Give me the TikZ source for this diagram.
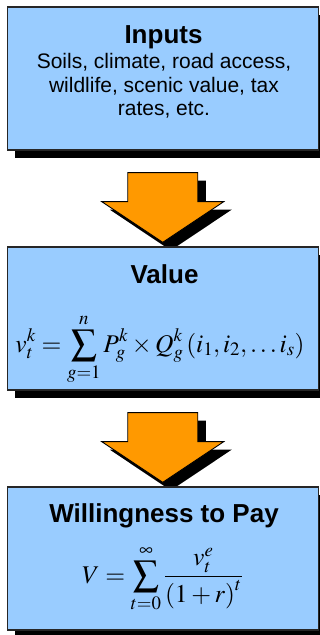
\documentclass[tikz,border=0pt]{standalone}
\usepackage{mathptmx}
\usepackage[no-math]{fontspec}
\setmainfont{Liberation Sans}
\usepackage{tikz}
\usetikzlibrary{
	calc,
	shadows,
	backgrounds,
	positioning
}
\definecolor{BoxBlue}{RGB}{153,204,255}
\definecolor{ArrowOrange}{RGB}{255,153,0}
\tikzset{
	stage/.style={draw=black!85, line width=1.3pt, fill=BoxBlue,
		minimum width=311pt, minimum height=143pt, inner sep=0pt,
		drop shadow={shadow xshift=8pt, shadow yshift=-8pt, fill=black, opacity=1}},
	flowarrow/.style={draw=black, line width=0.9pt, fill=ArrowOrange,
		drop shadow={shadow xshift=8pt, shadow yshift=-8pt, fill=black, opacity=1}},
	heading/.style={anchor=base, inner sep=0pt, font=\fontsize{26}{30}\selectfont\bfseries},
	bodytext/.style={anchor=base, inner sep=0pt, align=center, font=\fontsize{21}{23.5}\selectfont},
	formula/.style={anchor=base, inner sep=0pt, font=\fontsize{25.5}{30}\selectfont}
}
% block arrow from the bottom of one box to the top of the next
\newcommand{\flowstep}[2]{%
	\draw[flowarrow] let \p1=(#1.south), \p2=(#2.north) in
		(\x1-35pt,\y1-22pt) -- (\x1+35pt,\y1-22pt) -- (\x1+35pt,\y1-51pt)
		-- (\x1+61pt,\y1-51pt) -- (\x2,\y2+4pt) -- (\x1-61pt,\y1-51pt)
		-- (\x1-35pt,\y1-51pt) -- cycle;}

\begin{document}
\begin{tikzpicture}[x=1pt, y=-1pt]
	\useasboundingbox (0,0) rectangle (320,635);
	% boxes
	\node[stage] (inputs) at (162.75,78.5) {};
	\node[stage] (value) at (162.75,318.5) {};
	\node[stage] (wtp) at (162.75,558.5) {};
	% texts
	\node[heading] (inputstitle) at (163.5,43) {Inputs};
	\node[bodytext] (inputslist) at (164,115.5) {Soils, climate, road access,\\wildlife, scenic value, tax\\rates, etc.};
	\node[heading] (valuetitle) at (164.5,283) {Value};
	\node[formula] (valueeq) at (160,352)
		{$\displaystyle v_t^k = \sum_{g=1}^{n} P_g^k \times Q_g^k\left(i_1, i_2, \ldots i_s\right)$};
	\node[heading] (wtptitle) at (164,522) {Willingness to Pay};
	\node[formula] (wtpeq) at (162.5,583)
		{$\displaystyle V = \sum_{t=0}^{\infty} \frac{v_t^e}{\left(1+r\right)^t}$};
	% arrows behind the boxes
	\begin{scope}[on background layer]
		\flowstep{inputs}{value}
		\flowstep{value}{wtp}
	\end{scope}
\end{tikzpicture}
\end{document}
